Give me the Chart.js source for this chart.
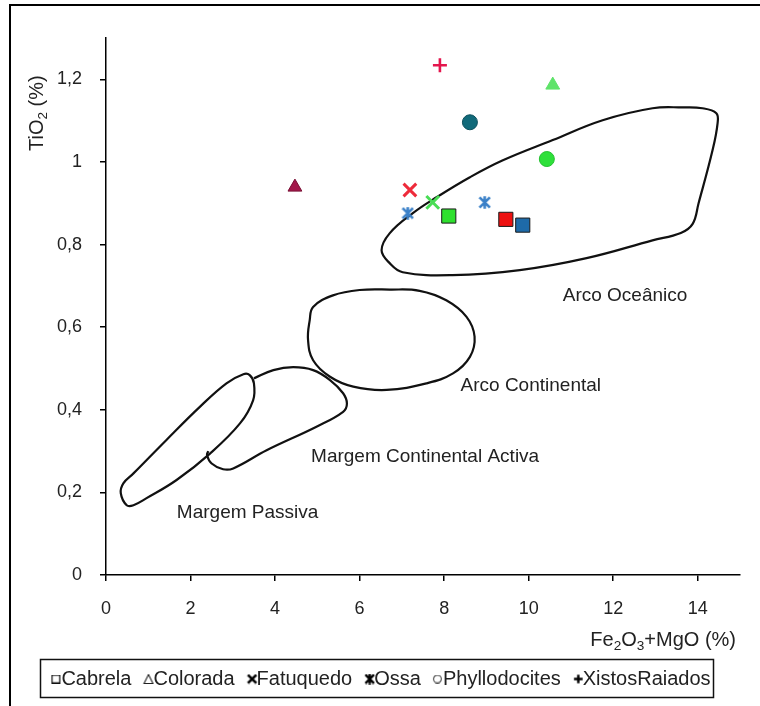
<!DOCTYPE html>
<html>
<head>
<meta charset="utf-8">
<script src="https://cdn.jsdelivr.net/npm/chart.js@4.4.1/dist/chart.umd.min.js"></script>
<style>
html,body{margin:0;padding:0;background:#fff}
</style>
</head>
<body>
<canvas id="grafico" width="760" height="706"></canvas>
<script>
// campioni: Fe2O3+MgO (%) / TiO2 (%)
const cabrelaX = [8.11, 9.46, 9.86];
const cabrelaY = [0.869, 0.861, 0.847];
const coloradaX = [4.47, 10.57];
const coloradaY = [0.939, 1.186];
const fatuquedoX = [7.19, 7.73];
const fatuquedoY = [0.932, 0.902];
const ossaX = [7.14, 8.96];
const ossaY = [0.876, 0.902];
const phylloX = [8.61, 10.43];
const phylloY = [1.096, 1.007];
const xistosX = [7.90];
const xistosY = [1.234];

// campi tettonici (contorni)
const oceanicoX = [6.52, 6.71, 7.02, 8.20, 9.79, 11.37, 12.93, 13.60, 13.88, 14.02, 14.35, 14.47, 14.44, 14.11, 13.64, 12.93, 11.75, 10.57, 9.39, 8.61, 7.83, 7.26, 6.71];
const oceanicoY = [0.786, 0.755, 0.733, 0.726, 0.738, 0.767, 0.810, 0.828, 0.850, 0.900, 1.028, 1.094, 1.118, 1.130, 1.132, 1.130, 1.101, 1.053, 1.004, 0.963, 0.915, 0.876, 0.827];
const continentalX = [4.90, 5.37, 6.00, 6.71, 7.42, 8.05, 8.53, 8.72, 8.61, 8.21, 7.58, 6.64, 5.85, 5.30, 4.90, 4.78, 4.82];
const continentalY = [0.649, 0.677, 0.690, 0.691, 0.688, 0.665, 0.625, 0.577, 0.528, 0.488, 0.464, 0.448, 0.456, 0.480, 0.520, 0.569, 0.617];
const passivaX = [0.49, 0.35, 0.41, 0.65, 1.43, 2.22, 2.85, 3.25, 3.40, 3.50, 3.48, 3.17, 2.46, 1.67, 0.96, 0.65];
const passivaY = [0.169, 0.198, 0.222, 0.246, 0.327, 0.407, 0.464, 0.486, 0.484, 0.464, 0.423, 0.367, 0.294, 0.230, 0.186, 0.169];
const activaX = [3.50, 3.96, 4.43, 4.90, 5.30, 5.61, 5.70, 5.61, 4.98, 3.80, 3.01, 2.77, 2.50, 2.39, 2.42];
const activaY = [0.476, 0.496, 0.503, 0.496, 0.472, 0.440, 0.415, 0.395, 0.359, 0.302, 0.258, 0.256, 0.270, 0.290, 0.300];

const campiNomi = ['Arco Oceânico', 'Arco Continental', 'Margem Continental Activa', 'Margem Passiva'];
const campiX = [12.28, 10.05, 7.55, 3.35];
const campiY = [0.675, 0.457, 0.286, 0.150];

const serie = ['Cabrela', 'Colorada', 'Fatuquedo', 'Ossa', 'Phyllodocites', 'XistosRaiados'];
const xTicks = [0, 2, 4, 6, 8, 10, 12, 14];
const yTicks = [0, 0.2, 0.4, 0.6, 0.8, 1, 1.2];

const FONT = "'Liberation Sans', Arial, sans-serif";
const TXT = '#222';
const LINEA = '#111';

function punti(xs, ys){
	return xs.map((x, i) => ({x: x, y: ys[i]}));
}

// marcatore disegnato su canvas (off = spazio a sinistra per la legenda)
function marcatore(forma, s, col, lw, off){
	off = off || 0;
	const c = document.createElement('canvas');
	const w = off ? 2 * s + 4 : s;
	c.width = w; c.height = s;
	const g = c.getContext('2d');
	g.strokeStyle = col; g.lineWidth = lw;
	const cx = off ? 1.5 * s + 3 : s / 2, cy = s / 2, r = s / 2 - lw / 2;
	g.beginPath();
	if(forma == 'square'){
		g.rect(cx - r, cy - r, 2 * r, 2 * r);
	} else if(forma == 'triangle'){
		g.moveTo(cx, cy - r); g.lineTo(cx + r, cy + r); g.lineTo(cx - r, cy + r); g.closePath();
	} else if(forma == 'circle'){
		g.arc(cx, cy, r, 0, 2 * Math.PI);
	} else if(forma == 'cross'){
		g.moveTo(cx - r, cy - r); g.lineTo(cx + r, cy + r); g.moveTo(cx + r, cy - r); g.lineTo(cx - r, cy + r);
	} else if(forma == 'star'){
		g.moveTo(cx - r, cy - r); g.lineTo(cx + r, cy + r); g.moveTo(cx + r, cy - r); g.lineTo(cx - r, cy + r);
		g.moveTo(cx, cy - r - 1); g.lineTo(cx, cy + r + 1);
	} else if(forma == 'plus'){
		g.moveTo(cx - r, cy); g.lineTo(cx + r, cy); g.moveTo(cx, cy - r); g.lineTo(cx, cy + r);
	}
	g.stroke();
	return c;
}

const ossaIcon = marcatore('star', 13, '#3a80c8', 2.6);
const legendaIcone = [
	marcatore('square', 9, '#111', 1.2, 1),
	marcatore('triangle', 10, '#222', 1.1, 1),
	marcatore('cross', 11, '#000', 2.6, 1),
	marcatore('star', 11, '#000', 2.4, 1),
	marcatore('circle', 9, '#555', 1.2, 1),
	marcatore('plus', 11, '#000', 2.4, 1)
];

// contorno chiuso: si ripetono i punti agli estremi e si nascondono
// il primo e l'ultimo tratto, cosi' la curva si chiude senza spigoli
function contorno(xs, ys, chiuso){
	let p = punti(xs, ys);
	const n = p.length;
	if(chiuso) p = [p[n - 1]].concat(p, [p[0], p[1]]);
	const tot = p.length;
	return {
		data: p, showLine: true, tension: 0.4, pointRadius: 0,
		borderColor: LINEA, borderWidth: 2.2, fill: false,
		segment: {
			borderColor: c => (chiuso && (c.p0DataIndex === 0 || c.p1DataIndex === tot - 1)) ? 'rgba(0,0,0,0)' : LINEA
		}
	};
}

function fmt(v){
	return String(Math.round(v * 10) / 10).replace('.', ',');
}

// testo con pedici: parti = [[testo, pedice], ...]
function testoPedici(ctx, parti, size){
	let w = 0;
	parti.forEach(p => {
		ctx.font = (p[1] ? size * 0.68 : size) + 'px ' + FONT;
		w += ctx.measureText(p[0]).width;
	});
	return w;
}
function scriviPedici(ctx, parti, x, y, size){
	parti.forEach(p => {
		ctx.font = (p[1] ? size * 0.68 : size) + 'px ' + FONT;
		ctx.fillText(p[0], x, p[1] ? y + size * 0.3 : y);
		x += ctx.measureText(p[0]).width;
	});
}

const decorazioni = {
	id: 'decorazioni',
	beforeDatasetsDraw(chart){
		const ctx = chart.ctx, sx = chart.scales.x, sy = chart.scales.y;
		ctx.save();
		ctx.fillStyle = TXT;
		ctx.textAlign = 'center';
		ctx.textBaseline = 'middle';
		ctx.font = '19px ' + FONT;
		campiNomi.forEach((n, i) => {
			ctx.fillText(n, sx.getPixelForValue(campiX[i]), sy.getPixelForValue(campiY[i]));
		});
		ctx.restore();
	},
	afterDraw(chart){
		const ctx = chart.ctx;
		ctx.save();
		// cornice
		ctx.strokeStyle = '#000';
		ctx.lineWidth = 2;
		ctx.strokeRect(10, 5, 770, 720);
		// titoli assi
		ctx.fillStyle = TXT;
		ctx.textAlign = 'left';
		ctx.textBaseline = 'middle';
		const xt = [['Fe', false], ['2', true], ['O', false], ['3', true], ['+MgO (%)', false]];
		const wx = testoPedici(ctx, xt, 20);
		scriviPedici(ctx, xt, 736 - wx, 640, 20);
		const yt = [['TiO', false], ['2', true], [' (%)', false]];
		ctx.translate(37, 151);
		ctx.rotate(-Math.PI / 2);
		scriviPedici(ctx, yt, 0, 0, 20);
		ctx.restore();
		// riquadro legenda
		const lg = chart.legend, hb = lg.legendHitBoxes;
		if(hb && hb.length){
			const l = hb[0].left - 9;
			const r = hb[hb.length - 1].left + hb[hb.length - 1].width + 3;
			ctx.save();
			ctx.strokeStyle = '#111';
			ctx.lineWidth = 1.5;
			ctx.strokeRect(Math.round(l) + 0.5, Math.round(lg.top) + 0.5, Math.round(r - l), 38);
			ctx.restore();
		}
	}
};

const assi = {
	border: {display: true, color: '#000', width: 1.5},
	grid: {drawOnChartArea: false, drawTicks: true, tickLength: 6, tickColor: '#000', lineWidth: 1.5}
};

new Chart(document.getElementById('grafico'), {
	type: 'scatter',
	data: {
		datasets: [
			{label: serie[0], data: punti(cabrelaX, cabrelaY), pointStyle: 'rect', pointRadius: 10,
				backgroundColor: ['#2ee02e', '#ee1111', '#1e6aa8'], borderColor: '#1a1a1a', borderWidth: 1},
			{label: serie[1], data: punti(coloradaX, coloradaY), pointStyle: 'triangle', pointRadius: 8,
				backgroundColor: ['#a3174a', '#5fe36a'], borderColor: ['#7a1035', '#5fe36a'], borderWidth: 1},
			{label: serie[2], data: punti(fatuquedoX, fatuquedoY), pointStyle: 'crossRot', pointRadius: 9,
				borderColor: ['#ee2a3a', '#49dd55'], borderWidth: 3},
			{label: serie[3], data: punti(ossaX, ossaY), pointStyle: ossaIcon},
			{label: serie[4], data: punti(phylloX, phylloY), pointStyle: 'circle', pointRadius: 7.5,
				backgroundColor: ['#116a7a', '#2ee03a'], borderColor: ['#0b4f5c', '#24c030'], borderWidth: 1},
			{label: serie[5], data: punti(xistosX, xistosY), pointStyle: 'cross', pointRadius: 7,
				borderColor: '#e4154d', borderWidth: 2.6},
			Object.assign({label: 'oceanico'}, contorno(oceanicoX, oceanicoY, true)),
			Object.assign({label: 'continentale'}, contorno(continentalX, continentalY, true)),
			Object.assign({label: 'passiva'}, contorno(passivaX, passivaY, true)),
			Object.assign({label: 'activa'}, contorno(activaX, activaY, false))
		]
	},
	options: {
		responsive: false,
		animation: false,
		events: [],
		layout: {padding: {top: 38, left: 0, right: 0, bottom: 7}},
		plugins: {
			tooltip: {enabled: false},
			legend: {
				position: 'bottom',
				labels: {
					usePointStyle: true,
					boxWidth: 2,
					padding: 10,
					color: TXT,
					font: {family: FONT, size: 20},
					generateLabels: () => serie.map((n, i) => ({
						text: n, pointStyle: legendaIcone[i], datasetIndex: i,
						fillStyle: '#fff', strokeStyle: '#000', lineWidth: 0, hidden: false, fontColor: TXT
					}))
				}
			}
		},
		scales: {
			x: Object.assign({
				type: 'linear', min: 0, max: 15,
				afterBuildTicks: s => { s.ticks = xTicks.map(v => ({value: v})); },
				afterFit: s => { s.height = 84; },
				ticks: {color: TXT, padding: 17, font: {family: FONT, size: 18}, callback: v => fmt(v)}
			}, assi),
			y: Object.assign({
				type: 'linear', min: 0, max: 1.3, position: 'left',
				afterBuildTicks: s => { s.ticks = yTicks.map(v => ({value: v})); },
				afterFit: s => { s.width = 106; },
				ticks: {color: TXT, padding: 18, font: {family: FONT, size: 18}, callback: v => fmt(v)}
			}, assi),
			yR: {
				type: 'linear', position: 'right',
				afterFit: s => { s.width = 20; },
				grid: {display: false}, border: {display: false}, ticks: {display: false}
			}
		}
	},
	plugins: [decorazioni]
});
</script>
</body>
</html>
